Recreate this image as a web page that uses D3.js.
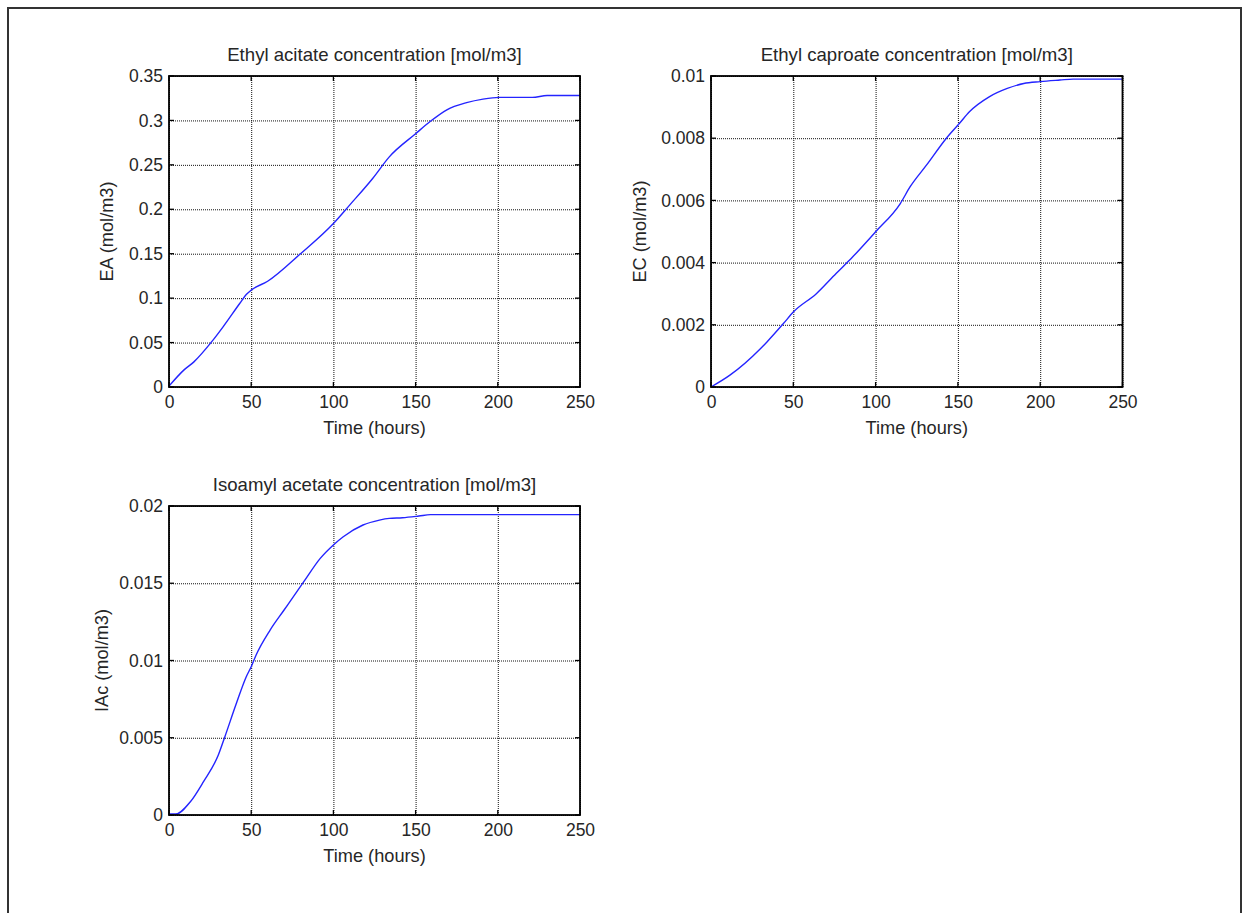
<!DOCTYPE html>
<html>
<head>
<meta charset="utf-8">
<script src="https://cdn.jsdelivr.net/npm/d3@7"></script>
<style>
body { margin: 0; background: #fff; }
svg text { font-family: "Liberation Sans", Arial, sans-serif; font-size: 17.5px; fill: #262626; }
svg text.title { font-size: 18.6px; }
svg text.label { font-size: 18.2px; }
.grid line { stroke: #111; stroke-width: 1; stroke-dasharray: 1,1; }
.frame { fill: none; stroke: #000; stroke-width: 1.8; }
.tick-in line { stroke: #000; stroke-width: 1.3; }
.line { fill: none; stroke: #2424ff; stroke-width: 1.4; }
</style>
</head>
<body>
<div id="chart"></div>
<script>
// values
var hoursEA = [0, 9, 15, 26, 33, 43, 47, 50, 60, 80, 100, 110, 124, 134, 150, 159, 169, 181, 191, 201, 221, 230, 250];
var ethylAcetate = [0.001, 0.019, 0.028, 0.051, 0.068, 0.094, 0.104, 0.109, 0.119, 0.150, 0.184, 0.205, 0.235, 0.259, 0.285, 0.299, 0.312, 0.320, 0.324, 0.326, 0.326, 0.328, 0.328];

var hoursEC = [0, 11.5, 30, 34, 44, 50, 64, 76, 86, 100, 115, 121, 131, 143, 151, 157, 169, 180, 190, 200, 212, 220, 250];
var ethylCaproate = [0, 0.00038, 0.00123, 0.00145, 0.00204, 0.00241, 0.0030, 0.00365, 0.00418, 0.00499, 0.0059, 0.00644, 0.00714, 0.0080, 0.00848, 0.00885, 0.00933, 0.0096, 0.00976, 0.00982, 0.00987, 0.0099, 0.0099];

var hoursIAc = [0, 4, 13, 21, 30, 34, 41, 47, 50, 53, 61.5, 70, 82, 92, 100, 106, 118, 128, 134, 142, 152, 159, 250];
var isoamylAcetate = [0.00006, 0.00006, 0.00086, 0.00216, 0.00388, 0.00507, 0.00723, 0.00895, 0.0096, 0.01036, 0.01197, 0.01327, 0.0151, 0.01661, 0.01748, 0.01801, 0.01877, 0.01909, 0.0192, 0.01924, 0.01935, 0.01944, 0.01944];

var timeTicks = [0, 50, 100, 150, 200, 250];
var eaTicks = [0, 0.05, 0.1, 0.15, 0.2, 0.25, 0.3, 0.35];
var ecTicks = [0, 0.002, 0.004, 0.006, 0.008, 0.01];
var iacTicks = [0, 0.005, 0.01, 0.015, 0.02];

var W = 1249, H = 913;

var panels = [
    { title: 'Ethyl acitate concentration [mol/m3]', ylabel: 'EA (mol/m3)',
      t: hoursEA, v: ethylAcetate, yTicks: eaTicks,
      left: 169, top: 76, width: 411, height: 311, labelX: 107 },
    { title: 'Ethyl caproate concentration [mol/m3]', ylabel: 'EC (mol/m3)',
      t: hoursEC, v: ethylCaproate, yTicks: ecTicks,
      left: 711, top: 76, width: 411.5, height: 311, labelX: 640 },
    { title: 'Isoamyl acetate concentration [mol/m3]', ylabel: 'IAc (mol/m3)',
      t: hoursIAc, v: isoamylAcetate, yTicks: iacTicks,
      left: 169, top: 506, width: 411, height: 309, labelX: 102 }
];

var svg = d3.select('#chart')
    .append('svg')
    .attr('width', W)
    .attr('height', H);

svg.append('rect')
    .attr('x', 8).attr('y', 8)
    .attr('width', 1233).attr('height', H)
    .attr('fill', 'none')
    .attr('stroke', '#333')
    .attr('stroke-width', 2);

var fmt = d3.format('~g');

panels.forEach(function(p) {
    var x = d3.scaleLinear().domain([0, 250]).range([0, p.width]);
    var y = d3.scaleLinear().domain(d3.extent(p.yTicks)).range([p.height, 0]);

    var g = svg.append('g')
	.attr('transform', 'translate(' + p.left + ',' + p.top + ')');

    // dotted grid
    g.append('g').attr('class', 'grid')
	.call(d3.axisBottom(x).tickValues(timeTicks).tickSize(p.height).tickFormat(''))
	.call((s) => s.select('.domain').remove());
    g.append('g').attr('class', 'grid')
	.call(d3.axisRight(y).tickValues(p.yTicks).tickSize(p.width).tickFormat(''))
	.call((s) => s.select('.domain').remove());

    // inward ticks on all four sides
    var tk = 5;
    var ticks = g.append('g').attr('class', 'tick-in');
    timeTicks.forEach(function(d) {
	ticks.append('line').attr('x1', x(d)).attr('x2', x(d)).attr('y1', p.height).attr('y2', p.height - tk);
	ticks.append('line').attr('x1', x(d)).attr('x2', x(d)).attr('y1', 0).attr('y2', tk);
    });
    p.yTicks.forEach(function(d) {
	ticks.append('line').attr('x1', 0).attr('x2', tk).attr('y1', y(d)).attr('y2', y(d));
	ticks.append('line').attr('x1', p.width).attr('x2', p.width - tk).attr('y1', y(d)).attr('y2', y(d));
    });

    // tick labels through axes, no tick marks
    g.append('g')
	.attr('transform', 'translate(0,' + p.height + ')')
	.call(d3.axisBottom(x).tickValues(timeTicks).tickSize(0).tickPadding(9).tickFormat(fmt))
	.call((s) => s.select('.domain').remove())
	.selectAll('text').attr('font-size', null).attr('font-family', null);
    g.append('g')
	.call(d3.axisLeft(y).tickValues(p.yTicks).tickSize(0).tickPadding(6).tickFormat(fmt))
	.call((s) => s.select('.domain').remove())
	.selectAll('text').attr('font-size', null).attr('font-family', null);

    var line = d3.line()
	.curve(d3.curveMonotoneX)
	.x((d, i) => x(p.t[i]))
	.y((d) => y(d));

    g.append('path')
	.attr('class', 'line')
	.datum(p.v)
	.attr('d', line);

    g.append('rect')
	.attr('class', 'frame')
	.attr('width', p.width)
	.attr('height', p.height);

    g.append('text')
	.attr('class', 'title')
	.attr('x', p.width / 2)
	.attr('y', -15)
	.attr('text-anchor', 'middle')
	.text(p.title);

    g.append('text')
	.attr('class', 'label')
	.attr('x', p.width / 2)
	.attr('y', p.height + 47)
	.attr('text-anchor', 'middle')
	.text('Time (hours)');

    svg.append('text')
	.attr('class', 'label')
	.attr('transform', 'translate(' + p.labelX + ',' + (p.top + p.height / 2) + ') rotate(-90)')
	.attr('dy', '0.35em')
	.attr('text-anchor', 'middle')
	.text(p.ylabel);
});
</script>
</body>
</html>
